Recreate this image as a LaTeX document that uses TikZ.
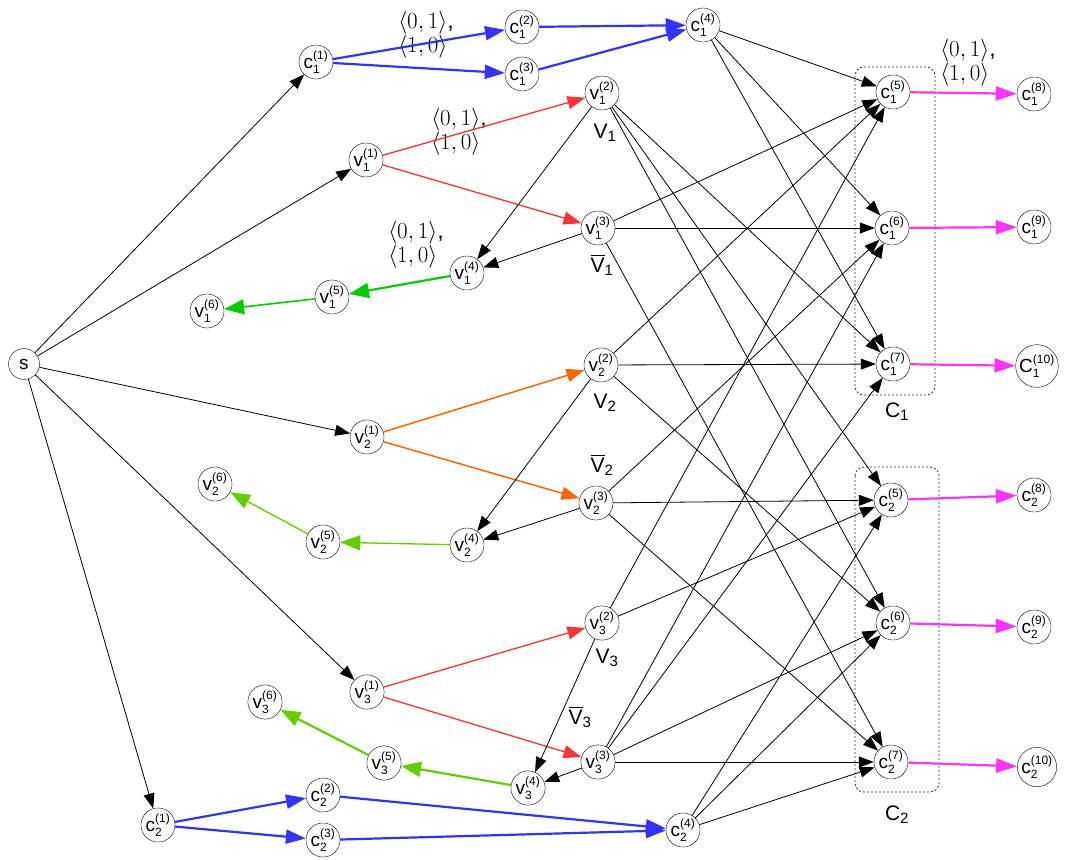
\RequirePackage{fix-cm}
\documentclass[tikz,border=0pt]{standalone}
\usepackage{amsmath}
\usepackage[no-math]{fontspec}
\setmainfont{Liberation Sans}
\usepackage{tikz}
\usetikzlibrary{arrows.meta}

\definecolor{cblue}{RGB}{51,51,255}
\definecolor{cred}{RGB}{255,51,51}
\definecolor{corange}{RGB}{255,102,0}
\definecolor{cgreen}{RGB}{0,204,0}
\definecolor{clime}{RGB}{102,204,0}
\definecolor{cmagenta}{RGB}{255,51,255}

\newcommand{\subf}{\fontsize{12}{12}\selectfont}
\newcommand{\lb}[3]{#1$_{\mbox{\subf #2}}^{\mbox{\subf (#3)}}$}
\newcommand{\lit}[2]{#1$_{\mbox{\fontsize{15}{15}\selectfont #2}}$}
\newcommand{\nlit}[1]{$\overline{\mbox{V}}_{\mbox{\fontsize{15}{15}\selectfont #1}}$}
\newcommand{\pairs}{$\langle 0,1\rangle$,\\$\langle 1,0\rangle$}

\begin{document}
\begin{tikzpicture}[x=1pt,y=-1pt,
          vtx/.style={circle,draw,inner sep=0.3pt,minimum size=31pt,font=\fontsize{19}{19}\selectfont},
          lit/.style={font=\fontsize{21}{21}\selectfont},
          pairlbl/.style={align=left,inner sep=0pt,font=\fontsize{23}{24}\selectfont},
          blk/.style={-{Triangle[length=15pt,width=11pt]},line width=0.8pt},
          blu/.style={-{Triangle[length=20pt,width=14pt]},line width=2.2pt,draw=cblue,fill=cblue},
          mag/.style={-{Triangle[length=21pt,width=14pt]},line width=2.2pt,draw=cmagenta,fill=cmagenta},
          rd/.style={-{Triangle[length=18pt,width=13pt]},line width=1.3pt,draw=cred,fill=cred},
          org/.style={-{Triangle[length=18pt,width=13pt]},line width=1.5pt,draw=corange,fill=corange},
          grn/.style={-{Triangle[length=20pt,width=15pt]},line width=2.2pt},
          clausebox/.style={dash pattern=on 2pt off 2pt,line width=0.8pt,rounded corners=9pt,draw=black!80}]
  \useasboundingbox (0,0) rectangle (1073,859);

  \node[vtx] (s) at (24,364) {s};

  \node[vtx] (c11) at (316,62) {\lb{c}{1}{1}};
  \node[vtx] (c12) at (522,27) {\lb{c}{1}{2}};
  \node[vtx] (c13) at (522,74) {\lb{c}{1}{3}};
  \node[vtx] (c14) at (703,25) {\lb{c}{1}{4}};
  \node[vtx] (c15) at (893,92) {\lb{c}{1}{5}};
  \node[vtx] (c16) at (892,228) {\lb{c}{1}{6}};
  \node[vtx] (c17) at (893,364) {\lb{c}{1}{7}};
  \node[vtx] (c18) at (1034,94) {\lb{c}{1}{8}};
  \node[vtx] (c19) at (1034,227) {\lb{c}{1}{9}};
  \node[vtx] (c110) at (1037,366) {\lb{C}{1}{10}};

  \node[vtx] (c21) at (158,825) {\lb{c}{2}{1}};
  \node[vtx] (c22) at (323,795) {\lb{c}{2}{2}};
  \node[vtx] (c23) at (323,840) {\lb{c}{2}{3}};
  \node[vtx] (c24) at (683,830) {\lb{c}{2}{4}};
  \node[vtx] (c25) at (891,500) {\lb{c}{2}{5}};
  \node[vtx] (c26) at (893,623) {\lb{c}{2}{6}};
  \node[vtx] (c27) at (891,762) {\lb{c}{2}{7}};
  \node[vtx] (c28) at (1034,495) {\lb{c}{2}{8}};
  \node[vtx] (c29) at (1034,627) {\lb{c}{2}{9}};
  \node[vtx] (c210) at (1037,767) {\lb{c}{2}{10}};

  \node[vtx] (v11) at (366,160) {\lb{v}{1}{1}};
  \node[vtx] (v12) at (602,93) {\lb{v}{1}{2}};
  \node[vtx] (v13) at (598,228) {\lb{v}{1}{3}};
  \node[vtx] (v14) at (467,273) {\lb{v}{1}{4}};
  \node[vtx] (v15) at (332,297) {\lb{v}{1}{5}};
  \node[vtx] (v16) at (207,311) {\lb{v}{1}{6}};

  \node[vtx] (v21) at (367,437) {\lb{v}{2}{1}};
  \node[vtx] (v22) at (601,365) {\lb{v}{2}{2}};
  \node[vtx] (v23) at (596,503) {\lb{v}{2}{3}};
  \node[vtx] (v24) at (467,545) {\lb{v}{2}{4}};
  \node[vtx] (v25) at (323,542) {\lb{v}{2}{5}};
  \node[vtx] (v26) at (215,484) {\lb{v}{2}{6}};

  \node[vtx] (v31) at (367,692) {\lb{v}{3}{1}};
  \node[vtx] (v32) at (602,623) {\lb{v}{3}{2}};
  \node[vtx] (v33) at (598,762) {\lb{v}{3}{3}};
  \node[vtx] (v34) at (528,788) {\lb{v}{3}{4}};
  \node[vtx] (v35) at (384,763) {\lb{v}{3}{5}};
  \node[vtx] (v36) at (265,702) {\lb{v}{3}{6}};

  \node[lit] (L1) at (605,133) {\lit{V}{1}};
  \node[lit] (N1) at (602,265) {\nlit{1}};
  \node[lit] (L2) at (605,403) {\lit{V}{2}};
  \node[lit] (N2) at (602,465) {\nlit{2}};
  \node[lit] (L3) at (607,658) {\lit{V}{3}};
  \node[lit] (N3) at (580,717) {\nlit{3}};
  \node[lit] (K1) at (897,412) {\lit{C}{1}};
  \node[lit] (K2) at (897,815) {\lit{C}{2}};

  \node[pairlbl] (p1) at (426,35) {\pairs};
  \node[pairlbl] (p2) at (459,132) {\pairs};
  \node[pairlbl] (p3) at (416,245) {\pairs};
  \node[pairlbl] (p4) at (968,63) {\pairs};

  \draw[clausebox] (855,67) rectangle (935,395);
  \draw[clausebox] (855,467) rectangle (939,792);

  \foreach \t in {c11,v11,v21,v31,c21}
    \draw[blk] (s) -- (\t);

  \foreach \j in {1,2} {
    \draw[blu] (c\j1) -- (c\j2);
    \draw[blu] (c\j1) -- (c\j3);
    \draw[blu] (c\j2) -- (c\j4);
    \draw[blu] (c\j3) -- (c\j4);
    \draw[blk] (c\j4) -- (c\j5);
    \draw[blk] (c\j4) -- (c\j6);
    \draw[blk] (c\j4) -- (c\j7);
    \draw[mag] (c\j5) -- (c\j8);
    \draw[mag] (c\j6) -- (c\j9);
    \draw[mag] (c\j7) -- (c\j10);
  }

  \draw[rd] (v11) -- (v12);
  \draw[rd] (v11) -- (v13);
  \draw[org] (v21) -- (v22);
  \draw[org] (v21) -- (v23);
  \draw[rd] (v31) -- (v32);
  \draw[rd] (v31) -- (v33);

  \foreach \i in {1,2,3} {
    \draw[blk] (v\i2) -- (v\i4);
    \draw[blk] (v\i3) -- (v\i4);
  }

  \draw[grn,draw=cgreen,fill=cgreen] (v14) -- (v15);
  \draw[grn,draw=cgreen,fill=cgreen,line width=1.6pt] (v15) -- (v16);
  \draw[grn,draw=clime,fill=clime,line width=1.3pt] (v24) -- (v25);
  \draw[grn,draw=clime,fill=clime,line width=1.3pt] (v25) -- (v26);
  \draw[grn,draw=clime,fill=clime] (v34) -- (v35);
  \draw[grn,draw=clime,fill=clime] (v35) -- (v36);

  \foreach \a/\b in {v12/c17,v12/c25,v12/c26,
                     v13/c15,v13/c16,v13/c27,
                     v22/c15,v22/c17,v22/c26,
                     v23/c16,v23/c25,v23/c27,
                     v32/c15,v32/c25,
                     v33/c16,v33/c17,v33/c26,v33/c27}
    \draw[blk] (\a) -- (\b);
\end{tikzpicture}
\end{document}
